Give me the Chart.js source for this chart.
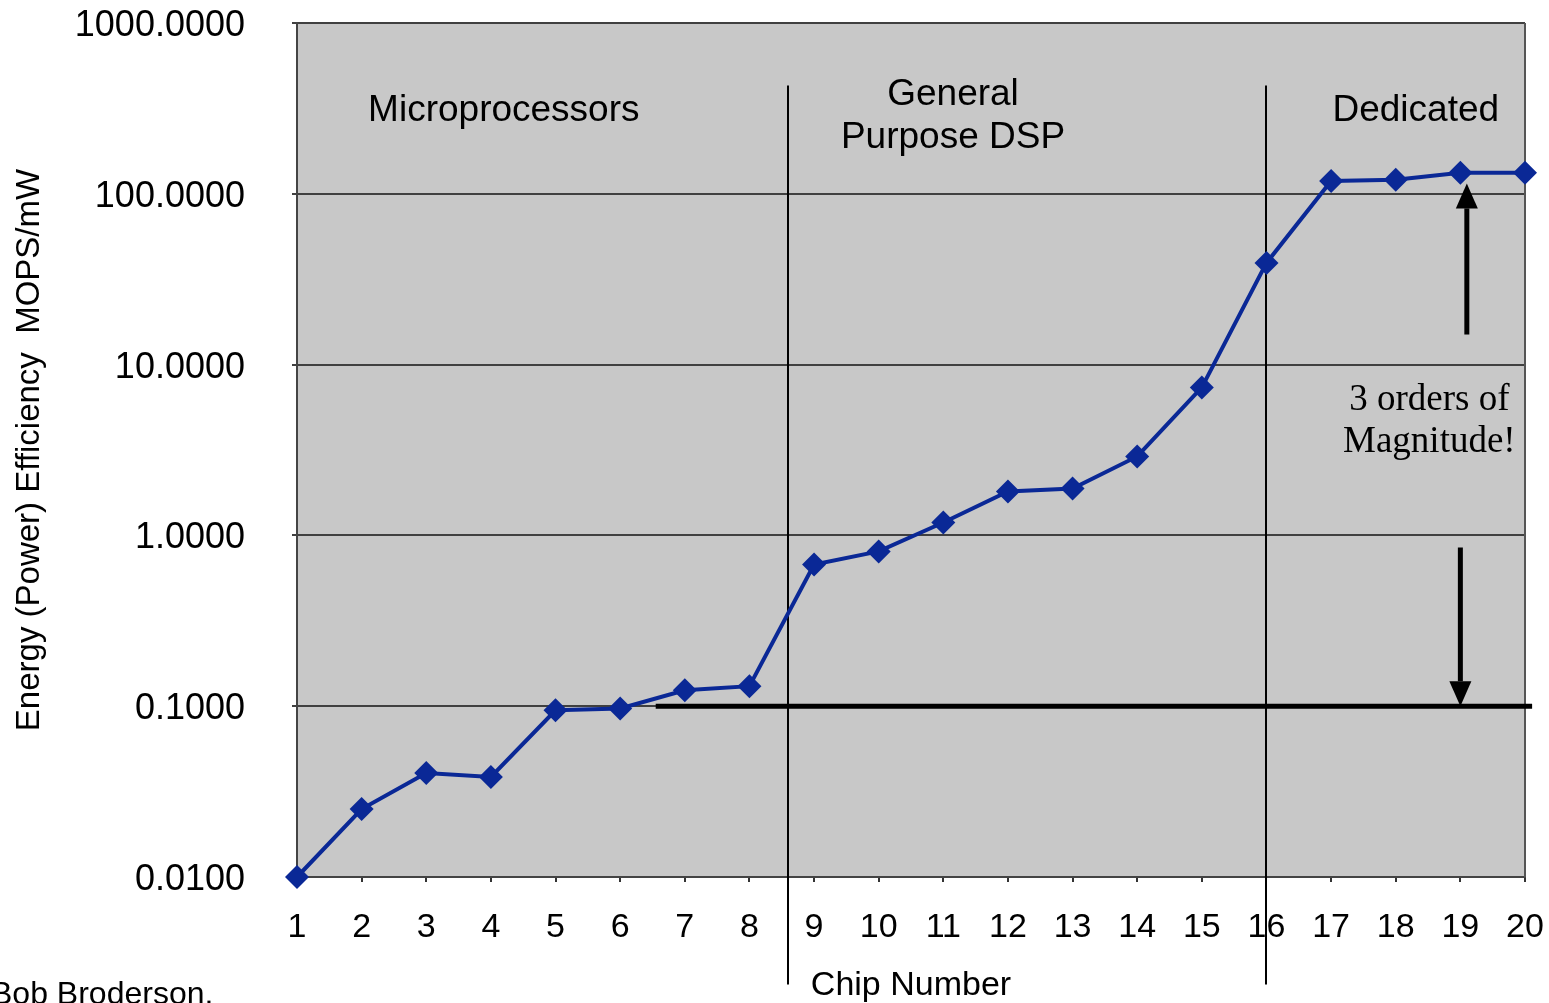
<!DOCTYPE html>
<html>
<head>
<meta charset="utf-8">
<script src="https://cdn.jsdelivr.net/npm/chart.js@4/dist/chart.umd.min.js"></script>
<style>
  html, body { margin: 0; padding: 0; background: #ffffff; }
  #wrap { position: relative; width: 1549px; height: 1003px; overflow: hidden; }
  canvas { display: block; }
</style>
</head>
<body>
<div id="wrap"><canvas id="c" width="1549" height="1003"></canvas></div>
<script>
// ---- data ----
const chipNumbers = [1, 2, 3, 4, 5, 6, 7, 8, 9, 10, 11, 12, 13, 14, 15, 16, 17, 18, 19, 20];
const efficiency = [0.0100, 0.0250, 0.0406, 0.0385, 0.0947, 0.0970, 0.124, 0.131, 0.676, 0.806,
                    1.19, 1.81, 1.88, 2.90, 7.35, 39.4, 119, 121, 133, 133];
const yTickValues = [0.01, 0.1, 1, 10, 100, 1000];
const xTickValues = chipNumbers;

// region divider positions (chip-number space) and annotation texts
const dividerChips = [8.6, 16];
const regionLabels = [
  { lines: ["Microprocessors"], chip: 4.2, values: [305] },
  { lines: ["General", "Purpose DSP"], chip: 11.15, values: [379, 212] },
  { lines: ["Dedicated"], chip: 18.31, values: [305] }
];
const magnitudeText = ["3 orders of", "Magnitude!"];
const magnitudeTextValues = [6.2, 3.5];
const magnitudeChip = 18.52;
const baselineValue = 0.1;
const baselineChips = [6.55, 20.11];
const upArrow = { chip: 19.1, from: 15, to: 115 };
const downArrow = { chip: 19.0, from: 0.85, to: 0.1 };
const dividerValueRange = [0.00235, 430];

const SANS = "'Liberation Sans', Arial, Helvetica, sans-serif";
const SERIF = "'Liberation Serif', 'Times New Roman', serif";

function drawArrow(ctx, x, y1, y2, shaftW, headW, headL) {
  const dir = y2 > y1 ? 1 : -1;
  ctx.save();
  ctx.strokeStyle = '#000';
  ctx.fillStyle = '#000';
  ctx.lineWidth = shaftW;
  ctx.beginPath();
  ctx.moveTo(x, y1);
  ctx.lineTo(x, y2 - dir * headL);
  ctx.stroke();
  ctx.beginPath();
  ctx.moveTo(x, y2);
  ctx.lineTo(x - headW / 2, y2 - dir * headL);
  ctx.lineTo(x + headW / 2, y2 - dir * headL);
  ctx.closePath();
  ctx.fill();
  ctx.restore();
}

const decorPlugin = {
  id: 'decor',
  beforeDraw(chart) {
    const { ctx, chartArea: a } = chart;
    ctx.save();
    ctx.fillStyle = '#c8c8c8';
    ctx.fillRect(a.left, a.top, a.right - a.left, a.bottom - a.top);
    ctx.restore();
  },
  beforeDatasetsDraw(chart) {
    const { ctx, chartArea: a } = chart;
    const xs = chart.scales.x, ys = chart.scales.y;
    ctx.save();
    // plot border (right side)
    ctx.strokeStyle = '#555';
    ctx.lineWidth = 2;
    ctx.beginPath();
    ctx.moveTo(a.right, a.top);
    ctx.lineTo(a.right, a.bottom);
    ctx.stroke();
    // region dividers
    ctx.strokeStyle = '#000';
    ctx.lineWidth = 2;
    dividerChips.forEach(c => {
      const x = Math.round(xs.getPixelForValue(c));
      ctx.beginPath();
      ctx.moveTo(x, ys.getPixelForValue(dividerValueRange[1]));
      ctx.lineTo(x, ys.getPixelForValue(dividerValueRange[0]));
      ctx.stroke();
    });
    // baseline
    ctx.lineWidth = 5;
    const by = ys.getPixelForValue(baselineValue);
    ctx.beginPath();
    ctx.moveTo(xs.getPixelForValue(baselineChips[0]), by);
    ctx.lineTo(xs.getPixelForValue(baselineChips[1]), by);
    ctx.stroke();
    ctx.restore();
    // arrows
    drawArrow(ctx, xs.getPixelForValue(upArrow.chip), ys.getPixelForValue(upArrow.from),
              ys.getPixelForValue(upArrow.to), 5, 22, 25);
    drawArrow(ctx, xs.getPixelForValue(downArrow.chip), ys.getPixelForValue(downArrow.from),
              ys.getPixelForValue(downArrow.to), 5, 22, 25);
    // texts
    ctx.save();
    ctx.fillStyle = '#000';
    ctx.textAlign = 'center';
    ctx.textBaseline = 'middle';
    ctx.font = '37px ' + SANS;
    regionLabels.forEach(r => {
      r.lines.forEach((t, i) => {
        ctx.fillText(t, xs.getPixelForValue(r.chip), ys.getPixelForValue(r.values[i]));
      });
    });
    ctx.font = '37px ' + SERIF;
    magnitudeText.forEach((t, i) => {
      ctx.fillText(t, xs.getPixelForValue(magnitudeChip), ys.getPixelForValue(magnitudeTextValues[i]));
    });
    ctx.restore();
    // source note
    ctx.save();
    ctx.fillStyle = '#000';
    ctx.font = '32px ' + SANS;
    ctx.textAlign = 'left';
    ctx.textBaseline = 'alphabetic';
    ctx.fillText('Bob Broderson.', -9, 1004);
    ctx.restore();
  }
};

new Chart(document.getElementById('c'), {
  type: 'line',
  data: {
    datasets: [{
      data: chipNumbers.map((c, i) => ({ x: c, y: efficiency[i] })),
      borderColor: '#0a2896',
      backgroundColor: '#0a2896',
      borderWidth: 4,
      pointStyle: 'rectRot',
      pointRadius: 12,
      pointHoverRadius: 12,
      pointBorderWidth: 0,
      tension: 0,
      clip: false
    }]
  },
  options: {
    responsive: false,
    animation: false,
    events: [],
    layout: { padding: { left: 0, right: 24, top: 23, bottom: 0 } },
    plugins: { legend: { display: false }, tooltip: { enabled: false } },
    scales: {
      x: {
        type: 'linear',
        min: 1,
        max: 20,
        afterBuildTicks(scale) { scale.ticks = xTickValues.map(v => ({ value: v })); },
        afterFit(scale) {
          scale.height = 126;
          scale.paddingLeft = 0; scale.paddingRight = 0;
          scale.paddingTop = 0; scale.paddingBottom = 0;
        },
        ticks: {
          color: '#000',
          font: { family: SANS, size: 34 },
          padding: 25,
          maxRotation: 0,
          autoSkip: false,
          callback: v => String(v)
        },
        grid: { drawOnChartArea: false, drawTicks: true, tickLength: 5, color: '#333', lineWidth: 2 },
        border: { display: true, color: '#444', width: 2 },
        title: {
          display: true,
          text: 'Chip Number',
          color: '#000',
          font: { family: SANS, size: 34 },
          padding: { top: 0, bottom: -3 }
        }
      },
      y: {
        type: 'logarithmic',
        min: 0.01,
        max: 1000,
        afterBuildTicks(scale) { scale.ticks = yTickValues.map(v => ({ value: v })); },
        afterFit(scale) {
          scale.width = 297;
          scale.paddingTop = 0; scale.paddingBottom = 0;
          scale.paddingLeft = 0; scale.paddingRight = 0;
        },
        ticks: {
          color: '#000',
          font: { family: SANS, size: 36 },
          padding: 47,
          labelOffset: 3,
          autoSkip: false,
          callback: v => Number(v).toFixed(4)
        },
        grid: { drawOnChartArea: true, drawTicks: true, tickLength: 5, color: '#404040', lineWidth: 2 },
        border: { display: true, color: '#444', width: 2 },
        title: {
          display: true,
          text: 'Energy (Power) Efficiency  MOPS/mW',
          color: '#000',
          font: { family: SANS, size: 33 },
          padding: { top: 10, bottom: 0 }
        }
      }
    }
  },
  plugins: [decorPlugin]
});
</script>
</body>
</html>
